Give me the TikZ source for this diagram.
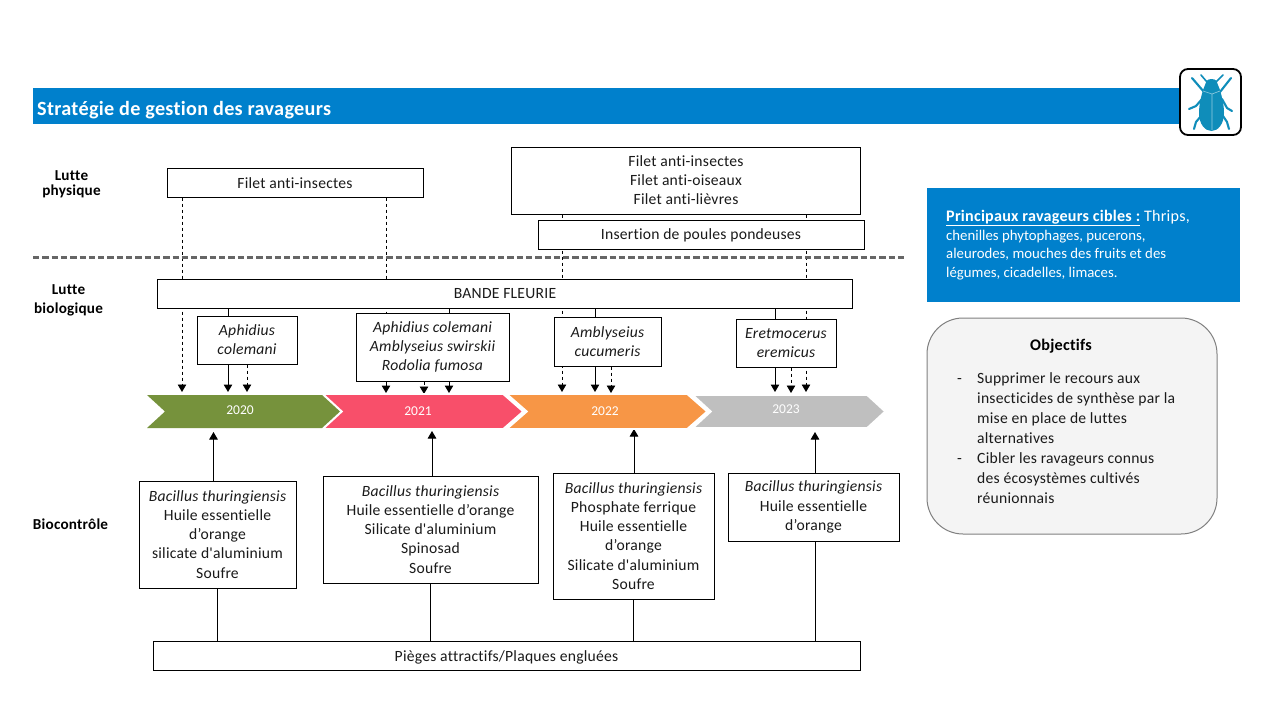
\documentclass[tikz,border=0pt]{standalone}
\usepackage{fontspec}
\newfontfamily\carl[LetterSpace=1.5,Ligatures=NoCommon]{Carlito}
\newfontfamily\carlp[Ligatures=NoCommon]{Carlito}
\usetikzlibrary{arrows.meta,backgrounds}
\definecolor{hdrblue}{HTML}{0080CC}
\definecolor{chgreen}{HTML}{76923C}
\definecolor{chred}{HTML}{F84F6A}
\definecolor{chorange}{HTML}{F79646}
\definecolor{chgray}{HTML}{BFBFBF}
\definecolor{beetle}{HTML}{0F8DBA}
\definecolor{txt}{HTML}{1A1A1A}
\definecolor{objfill}{HTML}{F4F4F4}
\tikzset{
  base/.style={font=\carl\fontsize{15.63}{19.1}\selectfont,text=txt,align=center,inner sep=0pt},
  boxn/.style={base,draw=black,fill=white,line width=1pt},
  lab/.style={base,font=\carl\bfseries\fontsize{15.2}{19}\selectfont,text=black},
  yearlab/.style={base,text=white,font=\carlp\fontsize{13.5}{16}\selectfont},
  chev/.style={draw=white,line width=1.6pt,line join=miter},
  sol/.style={draw=black,line width=1pt},
  dsh/.style={draw=black,line width=0.9pt,dash pattern=on 3.5pt off 2.5pt},
  arr/.style={-{Triangle[length=7.5pt,width=8.5pt]}},
  leg/.style={draw=beetle,line width=2.1pt,line cap=round,line join=round}
}
\begin{document}
\begin{tikzpicture}[x=1pt,y=-1pt]
\useasboundingbox (0,0) rectangle (1280,720);
% header
\fill[hdrblue] (33,88) rectangle (1190,124);
\node[base,anchor=west,text=white,font=\carl\bfseries\fontsize{20.2}{22}\selectfont] (title) at (37,110) {Stratégie de gestion des ravageurs};
\draw[black,fill=white,line width=1.8pt,rounded corners=8pt] (1180,69) rectangle (1241,135);
% beetle icon
\draw[leg,line width=1.6pt] (1207,82) -- (1201,75);
\draw[leg,line width=1.6pt] (1216,82) -- (1223,75);
\draw[leg] (1204,92) -- (1192,78);
\draw[leg] (1220,92) -- (1231,78);
\draw[leg] (1202,99) -- (1196,106) -- (1189,109);
\draw[leg] (1222,99) -- (1227,108) -- (1232,111);
\draw[leg] (1201,116) -- (1196,122) -- (1194,129);
\draw[leg] (1223,116) -- (1227,122) -- (1229,129);
\fill[beetle] (1211.5,79) .. controls (1207,79) and (1205,82) .. (1205,85) -- (1203,90) .. controls (1201,97) and (1199,105) .. (1199,113) .. controls (1199,124) and (1205,131) .. (1211.5,131) .. controls (1218,131) and (1224,124) .. (1224,113) .. controls (1224,105) and (1222,97) .. (1220,90) -- (1218,85) .. controls (1218,82) and (1216,79) .. (1211.5,79) -- cycle;
\draw[white!55!beetle,line width=0.6pt] (1212,94) -- (1212,130) (1203,91) -- (1212,94) -- (1220,91);
% separator
\draw[black!60,line width=2.1pt,dash pattern=on 6.3pt off 3pt] (33,257.5) -- (906,257.5);
% labels
\node[lab,font=\carl\bfseries\fontsize{15.2}{14.5}\selectfont] (l1) at (71.5,184.5) {Lutte\\physique};
\node[lab] (l2) at (68.5,300.5) {Lutte\\biologique};
\node[lab] (l3) at (70.5,524.5) {Biocontrôle};
% chevrons
\path[chev,fill=chgray] (693,395) -- (867,395) -- (885,411.5) -- (867,428) -- (693,428) -- (711,411.5) -- cycle;
\path[chev,fill=chorange] (507,394) -- (687,394) -- (707,411.5) -- (687,429) -- (507,429) -- (527,411.5) -- cycle;
\path[chev,fill=chred] (323,394) -- (503,394) -- (523,411.5) -- (503,429) -- (323,429) -- (342,411.5) -- cycle;
\fill[chgreen] (147,395) -- (322,395) -- (340,411.5) -- (322,428) -- (147,428) -- (165,411.5) -- cycle;
\node[yearlab] (y20) at (240,410.5) {2020};
\node[yearlab] (y21) at (418,411.5) {2021};
\node[yearlab] (y22) at (605,411) {2022};
\node[yearlab] (y23) at (786,409.5) {2023};
% boxes
\node[boxn,minimum width=256pt,minimum height=29pt,text height=12.6pt,text depth=0.2pt] (filetA) at (295,182.5) {Filet anti-insectes};
\node[boxn,minimum width=349.5pt,minimum height=67pt] (filetB) at (686,180.5) {Filet anti-insectes\\Filet anti-oiseaux\\Filet anti-lièvres};
\node[boxn,minimum width=326pt,minimum height=29pt,text height=13.4pt,text depth=3pt] (poules) at (701,234.5) {Insertion de poules pondeuses};
\node[boxn,minimum width=695pt,minimum height=29pt] (bande) at (505,293.5) {BANDE FLEURIE};
\node[boxn,minimum width=100pt,minimum height=48pt] (aph) at (247,340) {\itshape Aphidius\\\itshape colemani};
\node[boxn,minimum width=153pt,minimum height=68pt] (trois) at (432.5,347) {\itshape Aphidius colemani\\\itshape Amblyseius swirskii\\\itshape Rodolia fumosa};
\node[boxn,minimum width=107pt,minimum height=49pt] (ambl) at (607.5,341.5) {\itshape Amblyseius\\\itshape cucumeris};
\node[boxn,minimum width=100pt,minimum height=48pt] (eret) at (786,343) {\itshape Eretmocerus\\\itshape eremicus};
\node[boxn,minimum width=157pt,minimum height=107pt] (bioA) at (217.5,534.5) {\itshape Bacillus thuringiensis\\Huile essentielle\\d’orange\\silicate d'aluminium\\Soufre};
\node[boxn,minimum width=215pt,minimum height=107pt] (bioB) at (430.5,529.5) {\itshape Bacillus thuringiensis\\Huile essentielle d’orange\\Silicate d'aluminium\\Spinosad\\Soufre};
\node[boxn,minimum width=161pt,minimum height=126pt] (bioC) at (633.5,536) {\itshape Bacillus thuringiensis\\Phosphate ferrique\\Huile essentielle\\d’orange\\Silicate d'aluminium\\Soufre};
\node[boxn,minimum width=171pt,minimum height=68pt] (bioD) at (813.5,507) {\itshape Bacillus thuringiensis\\Huile essentielle\\d’orange};
\node[boxn,minimum width=707pt,minimum height=29pt,text height=14.4pt,text depth=3pt] (pieges) at (506.5,655.5) {Pièges attractifs/Plaques engluées};
% tips
\coordinate (a1) at (182,392);
\coordinate (a2) at (228,392);
\coordinate (a3) at (247,392);
\coordinate (a4) at (386,393);
\coordinate (a5) at (424,394);
\coordinate (a6) at (449,393);
\coordinate (a7) at (562,392);
\coordinate (a8) at (595,392);
\coordinate (a9) at (611,393);
\coordinate (a10) at (775,392);
\coordinate (a11) at (791,393);
\coordinate (a12) at (806,392);
\coordinate (u1) at (213.5,432);
\coordinate (u2) at (432,431);
\coordinate (u3) at (634,429);
\coordinate (u4) at (815,432);
\begin{scope}[on background layer]
\fill[white] (0,0) rectangle (1280,720);
\draw[dsh,arr] (filetA.south -| a1) -- (a1);
\draw[sol,arr] (bande.south -| a2) -- (a2);
\draw[dsh,arr] (aph.south -| a3) -- (a3);
\draw[dsh] (filetA.south -| a4) -- (trois.north -| a4);
\draw[sol,arr] (trois.south -| a4) -- (a4);
\draw[dsh,arr] (trois.south -| a5) -- (a5);
\draw[sol,arr] (bande.south -| a6) -- (a6);
\draw[dsh,arr] (filetB.south -| a7) -- (a7);
\draw[sol,arr] (bande.south -| a8) -- (a8);
\draw[dsh,arr] (ambl.south -| a9) -- (a9);
\draw[sol,arr] (bande.south -| a10) -- (a10);
\draw[dsh,arr] (eret.south -| a11) -- (a11);
\draw[dsh,arr] (filetB.south -| a12) -- (a12);
\draw[sol,arr] (bioA.north -| u1) -- (u1);
\draw[sol,arr] (bioB.north -| u2) -- (u2);
\draw[sol,arr] (bioC.north -| u3) -- (u3);
\draw[sol,arr] (bioD.north -| u4) -- (u4);
\draw[sol] (bioA.south) -- (pieges.north -| bioA.south);
\draw[sol] (bioB.south) -- (pieges.north -| bioB.south);
\draw[sol] (bioC.south) -- (pieges.north -| bioC.south);
\draw[sol] (bioD.south -| u4) -- (pieges.north -| u4);
\end{scope}
% right column
\fill[hdrblue] (927,188) rectangle (1240,302);
\node[base,anchor=north west,align=left,text=white,font=\carlp\fontsize{14.8}{18.7}\selectfont] (cibles) at (946,210) {{\carl\fontsize{16.1}{18.7}\selectfont\underline{\bfseries Principaux ravageurs cibles :} Thrips,}\\chenilles phytophages, pucerons,\\aleurodes, mouches des fruits et des\\légumes, cicadelles, limaces.};
\draw[black!50,fill=objfill,line width=1pt,rounded corners=36pt] (927,318) rectangle (1217,534);
\node[base,text=black,font=\carl\bfseries\fontsize{16.2}{19}\selectfont] (objt) at (1061,346) {Objectifs};
\node[base,anchor=north west,align=left,font=\carl\fontsize{15.63}{20}\selectfont] (objl) at (957,372) {\makebox[20pt][l]{-}Supprimer le recours aux\\\hspace*{20pt}insecticides de synthèse par la\\\hspace*{20pt}mise en place de luttes\\\hspace*{20pt}alternatives\\\makebox[20pt][l]{-}Cibler les ravageurs connus\\\hspace*{20pt}des écosystèmes cultivés\\\hspace*{20pt}réunionnais};
\end{tikzpicture}
\end{document}
